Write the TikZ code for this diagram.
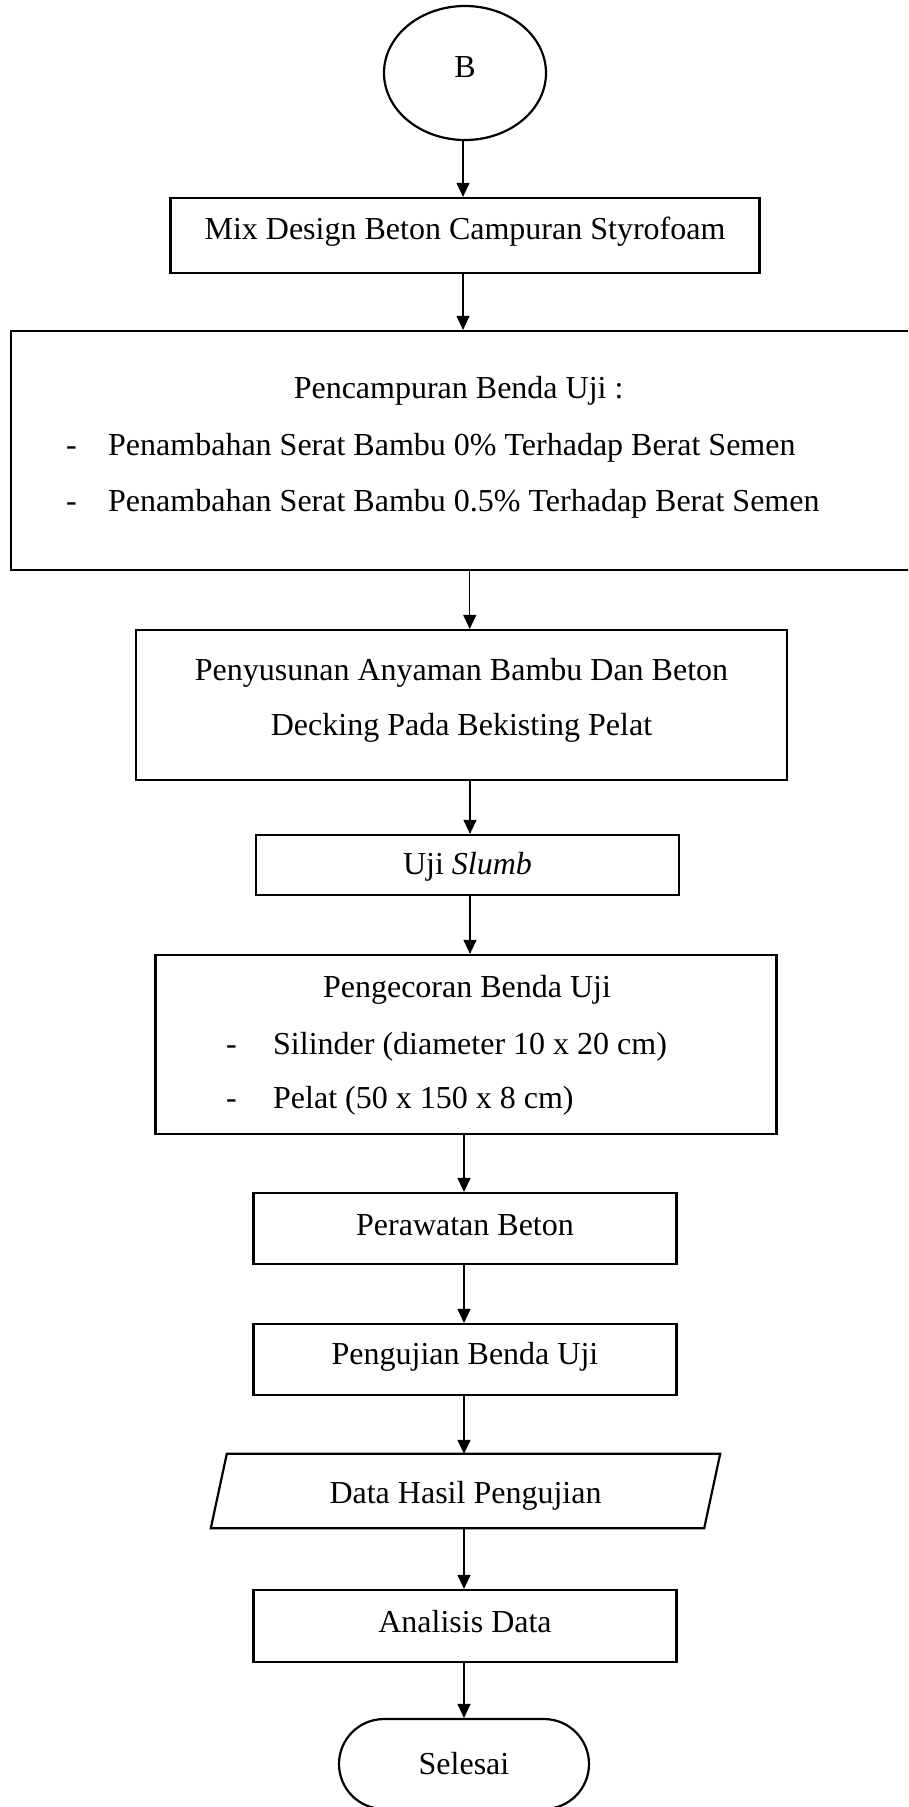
\documentclass[tikz,border=0pt]{standalone}
\usepackage{fontspec}
\setmainfont{Liberation Serif}
\usetikzlibrary{shapes.geometric,arrows.meta,calc}
\begin{document}
\begin{tikzpicture}[x=1pt,y=-1pt,
  every node/.style={font=\fontsize{32}{55}\selectfont, inner sep=0pt},
  box/.style={draw, line width=2.2pt, rectangle, align=center},
  conn/.style={line width=1.2pt, -{Triangle[length=14pt,width=13pt]}},
  txt/.style={anchor=mid}
]
\useasboundingbox (0,0) rectangle (908,1807);
\clip (0,0) rectangle (908,1807);

\node[draw, line width=2.2pt, ellipse, minimum width=162, minimum height=134] (b) at (465,73) {};
\node (bt) at (465,67) {B};

\node[box, minimum width=589, minimum height=75] (mix) at (465,235.5) {};
\node (mixt) at (465,231.5) {Mix Design Beton Campuran Styrofoam};

\node[box, minimum width=919, minimum height=239] (campur) at (470.75,450.5) {};
\node[txt] (campurh) at (458.6,396) {Pencampuran Benda Uji :};
\node[txt, anchor=mid west] (d1) at (66,453) {-};
\node[txt, anchor=mid west] (c1) at (108,453) {Penambahan Serat Bambu 0\% Terhadap Berat Semen};
\node[txt, anchor=mid west] (d2) at (66,509) {-};
\node[txt, anchor=mid west] (c2) at (108,509) {Penambahan Serat Bambu 0.5\% Terhadap Berat Semen};

\node[box, minimum width=651, minimum height=150] (susun) at (461.5,705) {};
\node[txt] (s1) at (461.5,678) {Penyusunan Anyaman Bambu Dan Beton};
\node[txt] (s2) at (461.5,733) {Decking Pada Bekisting Pelat};

\node[box, minimum width=423, minimum height=60] (slumb) at (467.5,865) {};
\node (slumbt) at (467.5,867) {Uji \textit{Slumb}};

\node[box, minimum width=621, minimum height=179] (cor) at (466,1044.5) {};
\node[txt] (corh) at (467,995) {Pengecoran Benda Uji};
\node[txt, anchor=mid west] (e1) at (226,1052) {-};
\node[txt, anchor=mid west] (f1) at (273,1052) {Silinder (diameter 10 x 20 cm)};
\node[txt, anchor=mid west] (e2) at (226,1106) {-};
\node[txt, anchor=mid west] (f2) at (273,1106) {Pelat (50 x 150 x 8 cm)};

\node[box, minimum width=423, minimum height=71] (rawat) at (465,1228.5) {};
\node (rawatt) at (465,1225) {Perawatan Beton};
\node[box, minimum width=423, minimum height=71] (uji) at (465,1359.5) {};
\node (ujit) at (465,1357) {Pengujian Benda Uji};

\node[minimum width=493, minimum height=74] (data) at (465.5,1491) {};
\node (datat) at (465.5,1496) {Data Hasil Pengujian};
\draw[line width=2.2pt, line join=miter]
  ([xshift=-8]data.south west) -- ([xshift=8]data.north west) --
  ([xshift=8]data.north east) -- ([xshift=-8]data.south east) -- cycle;

\node[box, minimum width=423, minimum height=72] (analisis) at (465,1626) {};
\node (analisist) at (465,1621.5) {Analisis Data};

\node[draw, line width=2.2pt, rectangle, rounded corners=45pt, minimum width=250, minimum height=90] (selesai) at (464,1764) {Selesai};

\draw[conn] ($(b.south)+(-2,0)$) -- ($(b.south |- mix.north)+(-2,0)$);
\draw[conn] ($(mix.south)+(-2,0)$) -- ($(mix.south |- campur.north)+(-2,0)$);
\draw[conn] ($(campur.south)+(-1,0)$) -- ($(campur.south |- susun.north)+(-1,0)$);
\draw[conn] ($(susun.south)+(8.5,0)$) -- ($(susun.south |- slumb.north)+(8.5,0)$);
\draw[conn] ($(slumb.south)+(2.5,0)$) -- ($(slumb.south |- cor.north)+(2.5,0)$);
\draw[conn] ($(cor.south)+(-2,0)$) -- ($(cor.south |- rawat.north)+(-2,0)$);
\draw[conn] ($(rawat.south)+(-1,0)$) -- ($(rawat.south |- uji.north)+(-1,0)$);
\draw[conn] ($(uji.south)+(-1,0)$) -- ($(uji.south |- data.north)+(-1,0)$);
\draw[conn] ($(data.south)+(-1.5,0)$) -- ($(data.south |- analisis.north)+(-1.5,0)$);
\draw[conn] ($(analisis.south)+(-1,0)$) -- ($(analisis.south |- selesai.north)+(-1,0)$);
\end{tikzpicture}
\end{document}
